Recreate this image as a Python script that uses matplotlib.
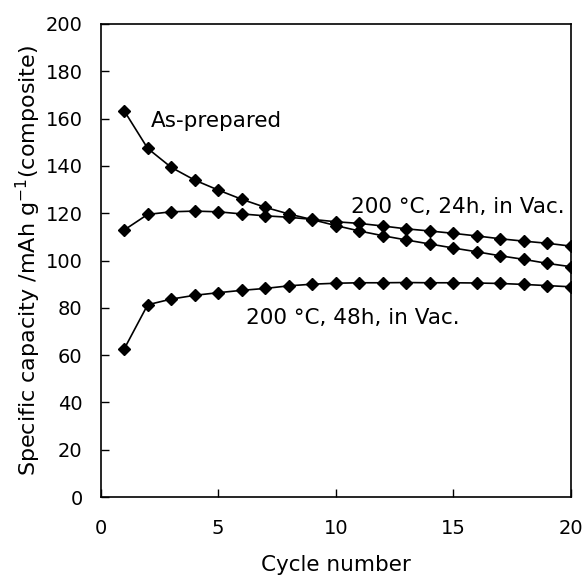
import numpy as np
import matplotlib
matplotlib.use('Agg')
import matplotlib.pyplot as plt

plt.rcParams['font.family'] = ['DejaVu Sans']

cycles = list(range(1, 21))
as_prepared = [163.3, 147.4, 139.4, 134.0, 129.8, 125.9, 122.5, 119.7, 117.3, 114.8,
               112.5, 110.5, 108.7, 107.0, 105.3, 103.7, 102.0, 100.5, 98.8, 97.4]
vac_24h = [112.9, 119.5, 120.6, 120.9, 120.6, 119.7, 118.9, 118.3, 117.4, 116.4,
           115.7, 114.6, 113.4, 112.5, 111.5, 110.4, 109.2, 108.2, 107.3, 106.1]
vac_48h = [62.6, 81.3, 83.7, 85.3, 86.4, 87.4, 88.2, 89.3, 90.0, 90.4,
           90.6, 90.6, 90.7, 90.6, 90.6, 90.5, 90.3, 89.9, 89.4, 88.9]

fig = plt.figure(figsize=(5.82, 5.78), dpi=100)
ax = fig.add_axes([0.173, 0.140, 0.8076, 0.8185])

for series in (as_prepared, vac_24h, vac_48h):
    ax.plot(cycles, series, color='black', linewidth=1.2,
            marker='D', markersize=6.3, markerfacecolor='black', markeredgecolor='black')

ax.set_xlim(0, 20)
ax.set_ylim(0, 200)
ax.set_xticks([0, 5, 10, 15, 20])
ax.set_yticks(range(0, 201, 20))
ax.tick_params(axis='both', direction='in', length=5.5, width=1.0, labelsize=14)
ax.tick_params(axis='x', pad=16)
ax.tick_params(axis='y', pad=13)
for s in ax.spines.values():
    s.set_linewidth(1.2)

ax.set_xlabel('Cycle number', fontsize=15.5, labelpad=12)
ax.set_ylabel('Specific capacity /mAh g$^{-1}$(composite)', fontsize=16, labelpad=2)

ax.text(2.14, 156.3, 'As-prepared', fontsize=15.5, va='baseline', ha='left')
ax.text(10.63, 120.3, '200 °C, 24h, in Vac.', fontsize=15.5, va='baseline', ha='left')
ax.text(6.2, 73.2, '200 °C, 48h, in Vac.', fontsize=15.5, va='baseline', ha='left')

fig.savefig('out.png', dpi=100)
